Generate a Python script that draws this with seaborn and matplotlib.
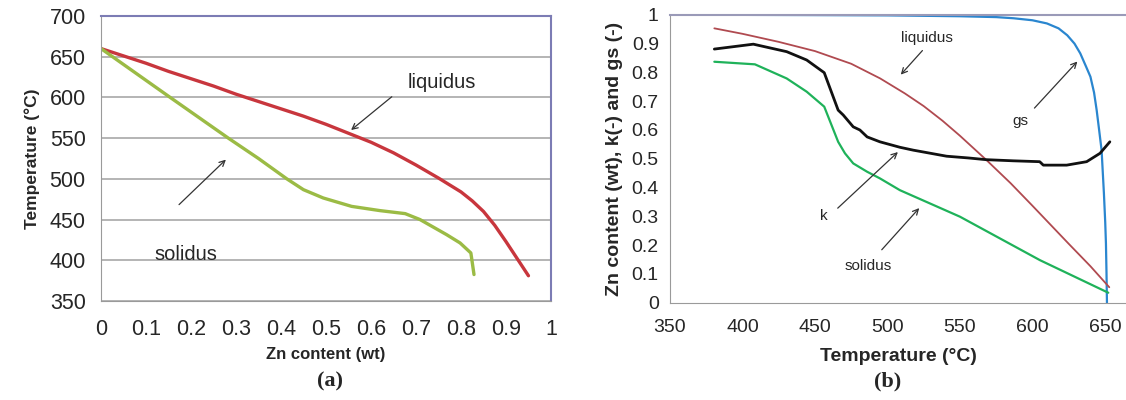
import numpy as np
import pandas as pd
import seaborn as sns
import matplotlib.pyplot as plt

# (a) phase diagram: Zn content vs temperature
liq_zn = [0.0, 0.05, 0.1, 0.15, 0.2, 0.25, 0.3, 0.35, 0.4, 0.45, 0.5, 0.55, 0.6, 0.65,
          0.7, 0.75, 0.8, 0.825, 0.85, 0.875, 0.9, 0.925, 0.95]
liq_t = [660, 651, 642, 632, 623, 614, 604, 595, 586, 577, 567, 556, 545, 532,
         517, 501, 484, 473, 460, 443, 423, 402, 381]
sol_zn = [0.0, 0.153, 0.283, 0.35, 0.413, 0.45, 0.494, 0.557, 0.62, 0.676, 0.709, 0.768, 0.798, 0.822, 0.829]
sol_t = [660, 600.3, 550, 525, 500, 486.7, 476.5, 466.2, 461, 457.3, 450, 431.5, 421.3, 409, 382.5]

# (b) Zn content, k and gs vs temperature
b_liq_t = [380.6, 400, 425, 450, 475, 495, 512, 525, 538, 550, 568, 585, 600, 625, 640, 653]
b_liq_v = [0.953, 0.934, 0.906, 0.874, 0.83, 0.779, 0.727, 0.683, 0.632, 0.58, 0.497, 0.415,
           0.337, 0.205, 0.127, 0.054]
k_t = [380.6, 407.5, 430.5, 444.3, 456.4, 466, 469.5, 476.4, 481, 486, 494.8, 508.6, 517.8,
       540.8, 555.7, 568, 586.8, 605, 607.5, 623.6, 637.4, 646.6, 653.4]
k_v = [0.881, 0.898, 0.872, 0.843, 0.799, 0.669, 0.652, 0.611, 0.6, 0.576, 0.559, 0.54, 0.53,
       0.509, 0.503, 0.497, 0.493, 0.49, 0.478, 0.478, 0.49, 0.519, 0.559]
b_sol_t = [380.6, 408.6, 430.5, 444.3, 456.4, 466, 470.7, 476.4, 486, 494.8, 508.6, 550, 605.2, 652.3]
b_sol_v = [0.837, 0.828, 0.779, 0.733, 0.681, 0.559, 0.519, 0.484, 0.455, 0.432, 0.391, 0.299, 0.148, 0.035]
gs_t = [380.6, 450, 500, 550, 575, 587, 600, 610, 618, 624, 629, 633, 637, 640, 642.5,
        644.3, 646, 647.7, 649.3, 650.2, 650.7, 651.1, 651.4]
gs_v = [1.0, 0.999, 0.998, 0.995, 0.992, 0.988, 0.981, 0.970, 0.953, 0.929, 0.9, 0.866, 0.82,
        0.785, 0.73, 0.669, 0.6, 0.53, 0.38, 0.28, 0.206, 0.1, 0.0]

sns.set_style("white")
plt.rcParams['font.family'] = ['Liberation Sans', 'DejaVu Sans']

fig = plt.figure(figsize=(11.26, 4.0), dpi=100)
ax1 = fig.add_axes([0.0897, 0.2475, 0.3996, 0.7125])
ax2 = fig.add_axes([0.595, 0.243, 0.4056, 0.72])

grey = '#9a9a9a'
frame = '#7c7cb4'

# ---- panel (a)
sns.lineplot(x=liq_zn, y=liq_t, ax=ax1, color='#c8363d', lw=2.4, sort=False, estimator=None)
sns.lineplot(x=sol_zn, y=sol_t, ax=ax1, color='#9bbb45', lw=2.4, sort=False, estimator=None)
ax1.set_xlim(0, 1)
ax1.set_ylim(350, 700)
ax1.set_xticks(np.arange(0, 1.01, 0.1))
ax1.set_xticklabels(['0'] + ['%.1f' % v for v in np.arange(0.1, 0.95, 0.1)] + ['1'])
ax1.set_yticks(range(350, 701, 50))
ax1.yaxis.grid(True, color='#a8a8a8', lw=1.2)
ax1.set_axisbelow(True)
for s in ['left', 'bottom']:
    ax1.spines[s].set_color(grey)
for s in ['top', 'right']:
    ax1.spines[s].set_color(frame)
    ax1.spines[s].set_linewidth(1.5)
ax1.tick_params(axis='both', direction='out', length=6, color=grey, labelsize=15.5, pad=5)
ax1.tick_params(axis='x', pad=7)
ax1.set_xlabel('Zn content (wt)', fontsize=12, fontweight='bold', labelpad=5)
ax1.set_ylabel('Temperature (°C)', fontsize=12.5, fontweight='bold', labelpad=7)

arr = dict(arrowstyle='->', color='#333333', lw=0.9)
ax1.text(0.757, 618, 'liquidus', fontsize=14.5, ha='center', va='center')
ax1.annotate('', xy=(0.551, 557.8), xytext=(0.651, 603), arrowprops=arr)
ax1.text(0.189, 407, 'solidus', fontsize=14.5, ha='center', va='center')
ax1.annotate('', xy=(0.282, 526), xytext=(0.169, 466), arrowprops=arr)

# ---- panel (b)
sns.lineplot(x=gs_t, y=gs_v, ax=ax2, color='#2a86cf', lw=1.6, sort=False, estimator=None)
sns.lineplot(x=b_liq_t, y=b_liq_v, ax=ax2, color='#b04a50', lw=1.3, sort=False, estimator=None)
sns.lineplot(x=k_t, y=k_v, ax=ax2, color='#111111', lw=2.0, sort=False, estimator=None)
sns.lineplot(x=b_sol_t, y=b_sol_v, ax=ax2, color='#1fb25a', lw=1.6, sort=False, estimator=None)
ax2.set_xlim(350, 665)
ax2.set_ylim(0, 1)
ax2.set_xticks(range(350, 651, 50))
ax2.set_yticks(np.arange(0, 1.01, 0.1))
ax2.set_yticklabels(['0'] + ['%.1f' % v for v in np.arange(0.1, 0.95, 0.1)] + ['1'])
ax2.spines['left'].set_color(grey)
ax2.spines['bottom'].set_color(grey)
ax2.spines['top'].set_color('#9a9ab8')
ax2.spines['top'].set_linewidth(1.5)
ax2.spines['right'].set_visible(False)
ax2.tick_params(axis='both', direction='out', length=4, color=grey, labelsize=14, pad=4)
ax2.tick_params(axis='x', pad=8)
ax2.set_xlabel('Temperature (°C)', fontsize=14, fontweight='bold', labelpad=8)
ax2.set_ylabel('Zn content (wt), k(-) and gs (-)', fontsize=14, fontweight='bold', labelpad=6)

ax2.text(527.2, 0.921, 'liquidus', fontsize=11, ha='center', va='center')
ax2.annotate('', xy=(507.9, 0.785), xytext=(525.4, 0.883), arrowprops=arr)
ax2.text(591.4, 0.631, 'gs', fontsize=11, ha='center', va='center')
ax2.annotate('', xy=(632.3, 0.845), xytext=(600.1, 0.669), arrowprops=arr)
ax2.text(456.2, 0.301, 'k', fontsize=11, ha='center', va='center')
ax2.annotate('', xy=(508.6, 0.530), xytext=(464.3, 0.322), arrowprops=arr)
ax2.text(486.6, 0.127, 'solidus', fontsize=11, ha='center', va='center')
ax2.annotate('', xy=(523.2, 0.336), xytext=(494.8, 0.177), arrowprops=arr)

fig.text(330 / 1126, 1 - 381 / 400, '(a)', fontsize=16, fontweight='bold',
         family=['Liberation Serif', 'DejaVu Serif'], ha='center', va='center')
fig.text(888 / 1126, 1 - 381 / 400, '(b)', fontsize=16, fontweight='bold',
         family=['Liberation Serif', 'DejaVu Serif'], ha='center', va='center')

fig.savefig('out.png', dpi=100)
